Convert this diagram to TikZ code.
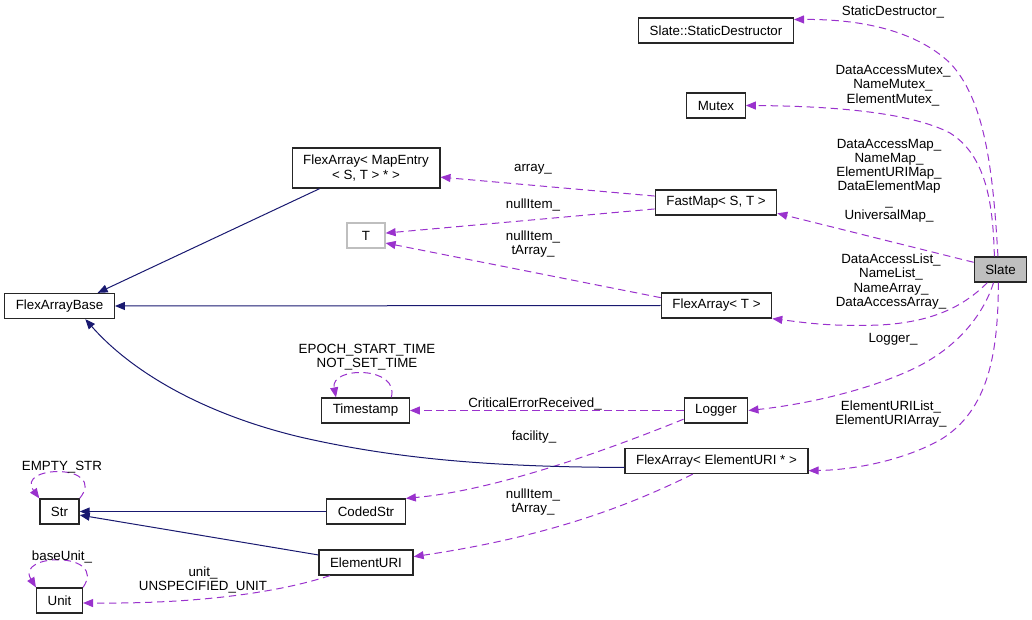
\documentclass[tikz,border=0pt]{standalone}
\usepackage{fontspec}
\setmainfont{Liberation Sans}
\usetikzlibrary{arrows.meta}
\definecolor{edgepurple}{HTML}{9A32CD}
\definecolor{edgenavy}{HTML}{191970}
\definecolor{boxgray}{HTML}{BFBFBF}
\newcommand{\lblfont}{\fontsize{10pt}{10.7pt}\selectfont}

\begin{document}
\begin{tikzpicture}[x=0.75pt, y=-0.75pt, >={Triangle[length=7.5pt,width=6pt]},
  cls/.style={draw=black!85, line width=0.95pt, fill=white, font=\lblfont, inner xsep=8.3pt, inner ysep=0pt, minimum height=18.75pt, minimum width=28.5pt},
  mem/.style={->, draw=edgepurple, line width=0.75pt, dash pattern=on 5.5pt off 3.5pt},
  inh/.style={->, draw=edgenavy, line width=0.75pt},
  lbl/.style={font=\lblfont, align=center, inner sep=0pt}]
  \useasboundingbox (0,0) rectangle (1032,620);

  \node[cls] (sd) at (716,30.5) {Slate::StaticDestructor};
  \node[cls] (mutex) at (716,105.5) {Mutex};
  \node[cls, align=center, minimum height=30pt] (famap) at (366,168) {FlexArray< MapEntry\\< S, T > * >};
  \node[cls] (fastmap) at (716,202.5) {FastMap< S, T >};
  \node[cls, draw=boxgray] (t) at (366,235.5) {T};
  \node[cls, fill=boxgray] (slate) at (1000.5,269.5) {Slate};
  \node[cls] (fab) at (59.5,306) {FlexArrayBase};
  \node[cls] (flext) at (716.5,305.5) {FlexArray< T >};
  \node[cls] (timestamp) at (365.5,410.5) {Timestamp};
  \node[cls] (logger) at (716,410.5) {Logger};
  \node[cls] (flexeuri) at (716.5,461) {FlexArray< ElementURI * >};
  \node[cls] (str) at (59.5,511.5) {Str};
  \node[cls] (codedstr) at (366,511.5) {CodedStr};
  \node[cls] (elemuri) at (366,562.5) {ElementURI};
  \node[cls] (unit) at (59.5,600.5) {Unit};

  \draw[mem] (slate.101) .. controls (993,170) and (985,100) .. (950,63) .. controls (915,30) and (860,19) .. (sd.8);
  \draw[mem] (slate.115) .. controls (993,200) and (985,155) .. (950,133) .. controls (910,112) and (830,106) .. (mutex.east);
  \draw[mem] (slate.165) -- (fastmap.-10);
  \draw[mem] (slate.225) .. controls (965,305) and (935,322) .. (880,325) .. controls (830,327) and (800,322) .. (flext.south east);
  \draw[mem] (slate.242) .. controls (985,310) and (962,345) .. (915,368) .. controls (865,392) and (800,405) .. (logger.east);
  \draw[mem] (slate.261) .. controls (998,350) and (990,410) .. (940,440) .. controls (900,462) and (850,470) .. (flexeuri.-6);
  \draw[mem] (fastmap.174) -- (famap.-7);
  \draw[mem] (fastmap.186) -- (t.7);
  \draw[mem] (flext.172) -- (t.-21);
  \draw[mem] (logger.west) -- (timestamp.east);
  \draw[mem] (logger.195) .. controls (620,445) and (500,490) .. (codedstr.north east);
  \draw[mem] (flexeuri.209) .. controls (640,500) and (560,535) .. (elemuri.7);
  \draw[mem] (elemuri.200) .. controls (280,592) and (200,604) .. (unit.-6);
  \draw[mem] (timestamp.27) .. controls (400,366) and (330,366) .. (timestamp.156);
  \draw[mem] (str.north east) .. controls (108,463) and (15,465) .. (str.north west);
  \draw[mem] (unit.north east) .. controls (108,551) and (15,553) .. (unit.north west);

  \draw[inh] (famap.204) -- (fab.19);
  \draw[inh] (flext.west) -- (fab.east);
  \draw[inh] (flexeuri.184) .. controls (500,467) and (400,460) .. (300,437) .. controls (200,413) and (130,370) .. (fab.-27);
  \draw[inh] (codedstr.west) -- (str.east);
  \draw[inh] (elemuri.171) -- (str.-10);

  \node[lbl] (lsd) at (893,12) {StaticDestructor\_};
  \node[lbl] (lmutex) at (893,85.5) {DataAccessMutex\_\\NameMutex\_\\ElementMutex\_};
  \node[lbl] (lfastmap) at (889,180.5) {DataAccessMap\_\\NameMap\_\\ElementURIMap\_\\DataElementMap\\\_\\UniversalMap\_};
  \node[lbl] (lflext) at (891,281.5) {DataAccessList\_\\NameList\_\\NameArray\_\\DataAccessArray\_};
  \node[lbl] (llogger) at (893,339) {Logger\_};
  \node[lbl] (lflexeuri) at (891,414) {ElementURIList\_\\ElementURIArray\_};
  \node[lbl] (larray) at (533,169) {array\_};
  \node[lbl] (lnullmap) at (533,205) {nullItem\_};
  \node[lbl] (lnullflext) at (533,244) {nullItem\_\\tArray\_};
  \node[lbl] (ltimestamp) at (367,357.5) {EPOCH\_START\_TIME\\NOT\_SET\_TIME};
  \node[lbl] (lcritical) at (535,404) {CriticalErrorReceived\_};
  \node[lbl] (lfacility) at (534,437) {facility\_};
  \node[lbl] (lnulleuri) at (533,502) {nullItem\_\\tArray\_};
  \node[lbl] (lemptystr) at (62,467) {EMPTY\_STR};
  \node[lbl] (lbaseunit) at (62,557) {baseUnit\_};
  \node[lbl] (lunit) at (203,580) {unit\_\\UNSPECIFIED\_UNIT};
\end{tikzpicture}
\end{document}
